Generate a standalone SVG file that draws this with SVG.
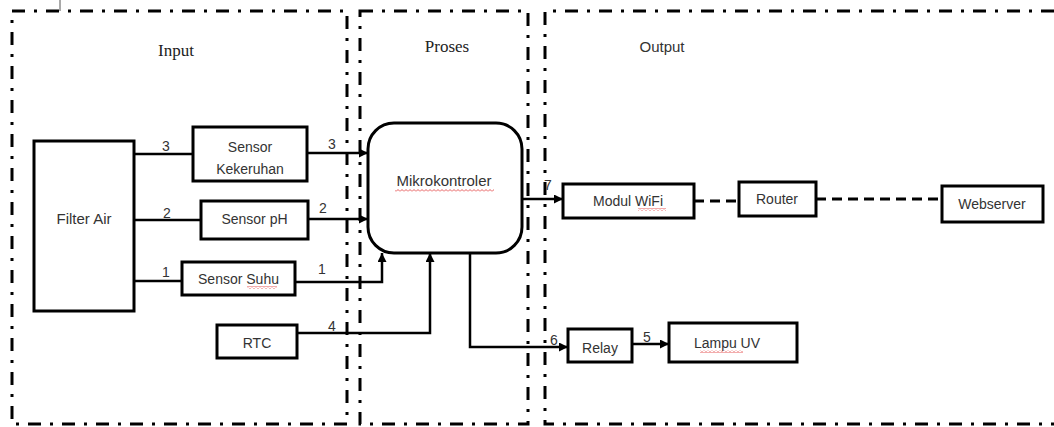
<svg xmlns="http://www.w3.org/2000/svg" width="1054" height="427" viewBox="0 0 1054 427">
<style>
.border{fill:none;stroke:#000;stroke-width:3;stroke-dasharray:13 9 3 9}
.box{fill:#fff;stroke:#000;stroke-width:3}
.conn{fill:none;stroke:#000;stroke-width:2.5}
.dash{fill:none;stroke:#000;stroke-width:3;stroke-dasharray:10 6}
.t{font-family:"Liberation Sans",Arial,sans-serif;font-size:14px;fill:#333;text-anchor:middle}
.h{font-family:"Liberation Serif","Times New Roman",serif;font-size:17px;fill:#222;text-anchor:middle}
.o{font-family:"Liberation Sans",Arial,sans-serif;font-size:15px;fill:#333;text-anchor:middle}
.n{font-family:"Liberation Sans",Arial,sans-serif;font-size:14px;fill:#333;text-anchor:middle}
</style>
<defs>
<marker id="arr" viewBox="0 0 10 10" refX="10" refY="5" markerWidth="9" markerHeight="9" markerUnits="userSpaceOnUse" orient="auto">
<path d="M0,0 L10,5 L0,10 z" fill="#000"/>
</marker>
<pattern id="sq" width="4" height="3" patternUnits="userSpaceOnUse">
<path d="M0,2.5 L2,0.5 L4,2.5" fill="none" stroke="#e03030" stroke-width="0.8"/>
</pattern>
</defs>
<g id="frames">
<line x1="60" y1="0" x2="60" y2="11" stroke="#555" stroke-width="1"/>
<rect class="border" x="12" y="11" width="335" height="413"/>
<rect class="border" x="360" y="11" width="168" height="413"/>
<path class="border" d="M1054,11 H545 V424 H1054"/>
<text class="h" x="176" y="56">Input</text>
<text class="h" x="447" y="52">Proses</text>
<text class="o" x="662" y="52">Output</text>
</g>
<g id="connectors">
<path class="conn" d="M134,154 H193"/>
<path class="conn" d="M134,220 H201"/>
<path class="conn" d="M134,281 H182"/>
<path class="conn" d="M307,153 H368" marker-end="url(#arr)"/>
<path class="conn" d="M308,219 H368" marker-end="url(#arr)"/>
<path class="conn" d="M295,282 H382 V253" marker-end="url(#arr)"/>
<path class="conn" d="M297,333 H430 V253" marker-end="url(#arr)"/>
<path class="conn" d="M470,253 V347 H568" marker-end="url(#arr)"/>
<path class="conn" d="M522,199 H563" marker-end="url(#arr)"/>
<path class="conn" d="M632,344 H669" marker-end="url(#arr)"/>
<path class="dash" d="M694,201 H739"/>
<path class="dash" d="M816,199 H942"/>
<text class="n" x="166" y="151">3</text>
<text class="n" x="167" y="218">2</text>
<text class="n" x="166" y="277">1</text>
<text class="n" x="332" y="149">3</text>
<text class="n" x="323" y="213">2</text>
<text class="n" x="322" y="274">1</text>
<text class="n" x="332" y="331">4</text>
<text class="n" x="548" y="190">7</text>
<text class="n" x="554" y="345">6</text>
<text class="n" x="647" y="342">5</text>
</g>
<g id="filter-air">
<rect class="box" x="34" y="141" width="100" height="170"/>
<text class="t" x="84" y="224" style="font-size:15px">Filter Air</text>
</g>
<g id="sensor-kekeruhan">
<rect class="box" x="193" y="127" width="114" height="54"/>
<text class="t" x="250" y="152">Sensor</text>
<text class="t" x="250" y="174">Kekeruhan</text>
</g>
<g id="sensor-ph">
<rect class="box" x="201" y="201" width="107" height="38"/>
<text class="t" x="254.5" y="224">Sensor pH</text>
</g>
<g id="sensor-suhu">
<rect class="box" x="182" y="262" width="113" height="33"/>
<text class="t" x="238.5" y="284">Sensor Suhu</text>
<rect x="247" y="286" width="30" height="3" fill="url(#sq)"/>
</g>
<g id="rtc">
<rect class="box" x="217" y="325" width="80" height="33"/>
<text class="t" x="257" y="348">RTC</text>
</g>
<g id="mikrokontroler">
<rect class="box" x="368" y="123" width="154" height="130" rx="26"/>
<text class="t" x="444" y="186" style="font-size:15px">Mikrokontroler</text>
<rect x="395" y="189" width="99" height="3" fill="url(#sq)"/>
</g>
<g id="modul-wifi">
<rect class="box" x="563" y="184" width="131" height="34"/>
<text class="t" x="628" y="206">Modul WiFi</text>
<rect x="638" y="208" width="28" height="3" fill="url(#sq)"/>
</g>
<g id="router">
<rect class="box" x="739" y="182" width="77" height="34"/>
<text class="t" x="777" y="204">Router</text>
</g>
<g id="webserver">
<rect class="box" x="942" y="186" width="101" height="36"/>
<text class="t" x="992" y="209">Webserver</text>
</g>
<g id="relay">
<rect class="box" x="568" y="329" width="64" height="33"/>
<text class="t" x="600" y="353">Relay</text>
</g>
<g id="lampu-uv">
<rect class="box" x="669" y="323" width="128" height="39"/>
<text class="t" x="727" y="348">Lampu UV</text>
<rect x="700" y="350" width="43" height="3" fill="url(#sq)"/>
</g>
</svg>
